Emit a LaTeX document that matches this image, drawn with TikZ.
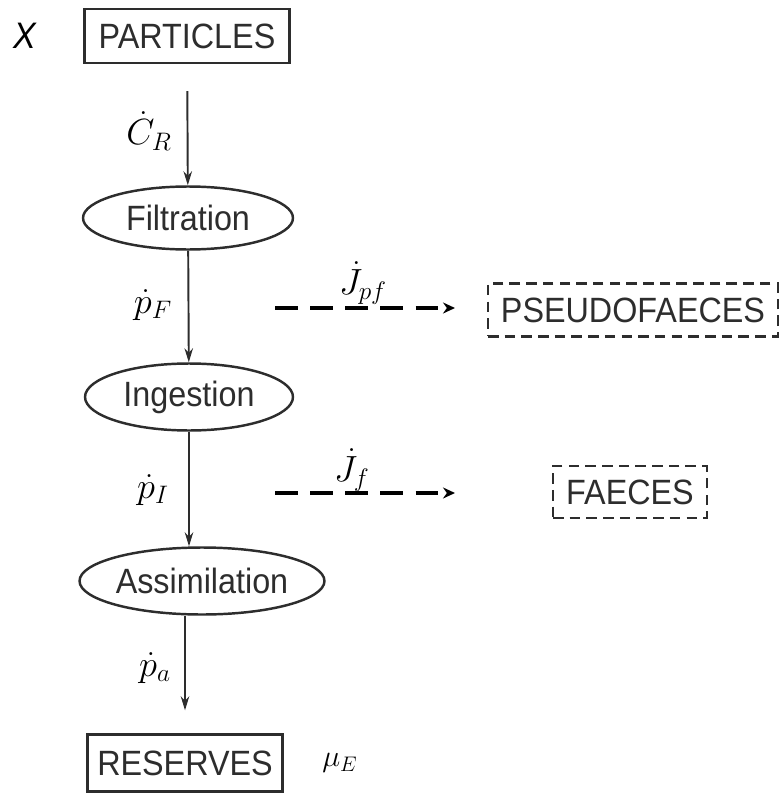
\documentclass[tikz,border=0pt]{standalone}
\usepackage{fontspec}
\setmainfont{Liberation Sans}[FakeStretch=0.92]
\usepackage{amsmath}
\usepackage{tikz}
\usetikzlibrary{arrows.meta, shapes.geometric}
\definecolor{trait}{RGB}{45,45,45}

\begin{document}
\begin{tikzpicture}[x=0.02cm, y=-0.02cm,
		>={Stealth[length=2.8mm, width=1.7mm]},
		boite/.style={draw=trait, line width=1.4pt, inner sep=0pt, text=trait,
			font=\fontsize{20}{24}\selectfont},
		etape/.style={ellipse, draw=trait, line width=1.4pt, inner sep=0pt, text=trait,
			font=\fontsize{20}{24}\selectfont},
		rejet/.style={draw=trait, line width=1.4pt, dash pattern=on 6pt off 3.5pt,
			inner sep=0pt, text=trait, font=\fontsize{20}{24}\selectfont},
		lbl/.style={text=black, font=\fontsize{21}{25}\selectfont},
		flux/.style={->, draw=trait, line width=1.1pt},
		perte/.style={-{Stealth[length=2.4mm, width=2.2mm]}, draw=black, line width=2.2pt,
			dash pattern=on 13pt off 7pt}
	]
	\useasboundingbox (0,0) rectangle (783,794);
	
	% Chaine principale
	\node[lbl] (x) at (25,36) {\itshape X};
	\node[boite, minimum width=4.1cm, minimum height=1.08cm] (particles) at (187,36) {PARTICLES};
	\node[etape, minimum width=4.2cm, minimum height=1.26cm] (filt) at (188,218) {Filtration};
	\node[etape, minimum width=4.16cm, minimum height=1.34cm] (ing) at (189,397) {Ingestion};
	\node[etape, minimum width=4.9cm, minimum height=1.34cm] (assim) at (202,581) {Assimilation};
	\node[boite, minimum width=3.9cm, minimum height=1.14cm] (reserves) at (185,763) {RESERVES};
	\node[lbl, font=\fontsize{18}{21}\selectfont] (mu) at (340,763) {$\mu_E$};
	
	% Rejets
	\node[rejet, minimum width=5.8cm, minimum height=1.06cm] (pseudo) at (633,310) {PSEUDOFAECES};
	\node[rejet, minimum width=3.08cm, minimum height=1.04cm] (faeces) at (630,492) {FAECES};
	
	% Flux
	\node[lbl] (cr) at (149,131) {$\dot{C}_R$};
	\node[lbl] (pf) at (153,305) {$\dot{p}_F$};
	\node[lbl] (pi) at (153,490) {$\dot{p}_I$};
	\node[lbl] (pa) at (155,668) {$\dot{p}_a$};
	\node[lbl] (jpf) at (363,283) {$\dot{J}_{pf}$};
	\node[lbl] (jf) at (352,470) {$\dot{J}_f$};
	
	\coordinate (pf0) at (275,308);
	\coordinate (pf1) at (455,308);
	\coordinate (f0) at (275,493);
	\coordinate (f1) at (455,493);
	
	\draw[flux, shorten <=0.54cm] (particles) -- (filt);
	\draw[flux] (filt) -- (ing);
	\draw[flux] (ing.south) -- (ing.south |- assim.north);
	\draw[flux, shorten >=0.46cm] (assim.south -| reserves) -- (reserves.north);
	\draw[perte] (pf0) -- (pf1);
	\draw[perte] (f0) -- (f1);
\end{tikzpicture}
\end{document}
